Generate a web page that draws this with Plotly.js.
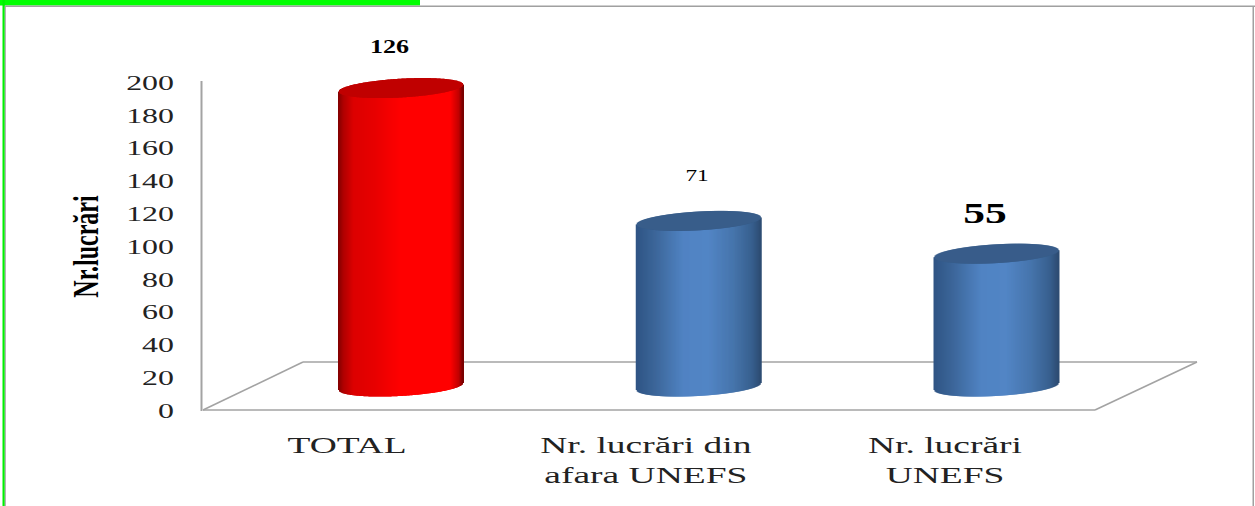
<!DOCTYPE html>
<html>
<head>
<meta charset="utf-8">
<script src="https://cdn.plot.ly/plotly-3.0.1.min.js"></script>
<style>html,body{margin:0;padding:0;background:#fff;overflow:hidden}#chart{width:1255px;height:506px}</style>
</head>
<body>
<div id="chart"></div>
<script>
// ---- data ----
const categories = ['TOTAL', 'Nr. lucrări din<br>afara UNEFS', 'Nr. lucrări<br>UNEFS'];
const barHeights = [182, 101, 81];      // height of each cylinder as read against the value axis
const dataLabels = ['126', '71', '55']; // printed labels (they differ from the drawn heights in the source)
const yTicks = [0, 20, 40, 60, 80, 100, 120, 140, 160, 180, 200];
const yTitle = 'Nr.lucrări';

// ---- layout and style ----
const W = 1255, H = 506;
const plot = {l: 202, r: 1200, t: 69, b: 410};
const pxPerX = 299, pxPerY = 1.64, x0px = 347;
const xRange = [(plot.l - x0px) / pxPerX, (plot.r - x0px) / pxPerX];
const yRange = [0, (plot.b - plot.t) / pxPerY]; // head-room above 200 so the red cap is not cut off
const serif = '"Liberation Serif","Times New Roman",serif';
const depthOffset = 14.3;   // bar base centre above the axis zero, floor depth
const barShift = 54 / pxPerX;    // bars sit behind the labels in the fake 3-D view
const barStep = 297.75 / pxPerX;
const halfW = 62, tilt = 3.5, capB = 9.4; // cylinder shape, pixels
const blueStops = [['0', '#2f5484'], ['0.15', '#3c6699'], ['0.38', '#5083c3'], ['0.58', '#5285c5'], ['0.78', '#4675ac'], ['0.93', '#38608f'], ['1', '#2d4c73']];
const bodyStops = [
  [['0', '#850000'], ['0.04', '#b00000'], ['0.12', '#dc0000'], ['0.3', '#e80000'], ['0.5', '#ff0000'], ['0.9', '#ff0000'], ['0.97', '#c00000'], ['1', '#7a0000']],
  blueStops,
  blueStops
];
const capColors = ['#c00000', '#385d8a', '#385d8a'];
const labelFonts = [
  {size: 18, weight: 700, dx: -12, dy: 41},
  {size: 16, weight: 400, dx: -2, dy: 45},
  {size: 30, weight: 700, dx: -11.5, dy: 41}
];

function hex(c) { return [1, 3, 5].map(i => parseInt(c.substr(i, 2), 16)); }
function gradient(stops, f) {
  for (let i = 1; i < stops.length; i++) {
    const a = +stops[i - 1][0], b = +stops[i][0];
    if (f <= b) {
      const k = (f - a) / (b - a), p = hex(stops[i - 1][1]), q = hex(stops[i][1]);
      return 'rgb(' + p.map((v, j) => Math.round(v + (q[j] - v) * k)).join(',') + ')';
    }
  }
  return stops[stops.length - 1][1];
}

const barCentre = c => barShift + c * barStep;
const traces = [], capTraces = [];
categories.forEach((cat, c) => {
  const cx = barCentre(c), xs = [], ys = [], bases = [], colors = [], widths = [];
  const capY = [], capBase = [];
  const topCentre = depthOffset + barHeights[c];
  for (let p = -halfW; p <= halfW; p++) {
    const u = p / halfW, arc = capB * Math.sqrt(Math.max(0, 1 - u * u));
    const bottom = depthOffset + (tilt * u - arc) / pxPerY;
    const top = topCentre + tilt * u / pxPerY;
    xs.push(cx + p / pxPerX);
    bases.push(bottom);
    ys.push(top - bottom);
    widths.push(2 / pxPerX);
    colors.push(gradient(bodyStops[c], (u + 1) / 2));
    capBase.push(top - arc / pxPerY);
    capY.push(2 * arc / pxPerY);
  }
  traces.push({type: 'bar', name: cat, x: xs, y: ys, base: bases, width: widths,
    marker: {color: colors, line: {width: 0}}, hoverinfo: 'skip', showlegend: false, cliponaxis: false});
  capTraces.push({type: 'bar', name: cat + ' top', x: xs, y: capY, base: capBase, width: widths,
    marker: {color: capColors[c], line: {width: 0}}, hoverinfo: 'skip', showlegend: false, cliponaxis: false});
});

const px = v => (v - plot.l) / (plot.r - plot.l);
const py = v => (plot.b - v) / (plot.b - plot.t);
const rect = (x1, y1, x2, y2, color) => ({type: 'rect', xref: 'paper', yref: 'paper', layer: 'below',
  x0: px(x1), x1: px(x2), y0: py(y1), y1: py(y2), fillcolor: color, line: {width: 0}});
const seg = (x1, y1, x2, y2, w) => ({type: 'line', xref: 'paper', yref: 'paper', layer: 'below',
  x0: px(x1), x1: px(x2), y0: py(y1), y1: py(y2), line: {color: '#a3a3a3', width: w || 1.6}});

const annotations = dataLabels.map((t, c) => ({
  x: barCentre(c), y: depthOffset + barHeights[c], xref: 'x', yref: 'y', text: t, showarrow: false,
  xanchor: 'center', yanchor: 'middle', xshift: labelFonts[c].dx, yshift: labelFonts[c].dy,
  font: {family: serif, size: labelFonts[c].size, weight: labelFonts[c].weight, color: '#000'}
}));

const layout = {
  width: W, height: H, autosize: false, barmode: 'overlay',
  paper_bgcolor: '#fff', plot_bgcolor: 'rgba(0,0,0,0)', showlegend: false,
  margin: {l: plot.l, r: W - plot.r, t: plot.t, b: H - plot.b, pad: 0},
  xaxis: {type: 'linear', range: xRange, tickmode: 'array', tickvals: [0, 1, 2], ticktext: categories,
    showgrid: false, zeroline: false, showline: false, ticks: '', ticklabelstandoff: 19,
    tickfont: {family: serif, size: 23, color: '#222'}},
  yaxis: {range: yRange, tickmode: 'array', tickvals: yTicks, ticktext: yTicks.map(String),
    showgrid: false, zeroline: false, showline: false, ticks: '',
    ticklabelstandoff: 27, tickfont: {family: serif, size: 22, color: '#222'},
    title: {text: yTitle, standoff: 39, font: {family: serif, size: 24, weight: 700, color: '#000'}}},
  annotations: annotations,
  shapes: [
    rect(0, 0, 420, 5.5, '#00ff00'),
    rect(5, 5.5, 1255, 7, '#a0a0a0'),
    rect(2.5, 0, 4.8, 506, '#00f000'),
    rect(4.8, 7, 5.8, 506, '#a0a0a0'),
    rect(1252.5, 7, 1254, 506, '#a0a0a0'),
    seg(201.5, 81, 201.5, 411, 2),
    seg(203, 410, 1095, 410),
    seg(203, 410, 303, 362),
    seg(303, 362, 1197, 362),
    seg(1197, 362, 1095, 410)
  ]
};

function stretch(el, sx, sy, anchor, dy) {
  const b = el.getBBox();
  const cx = anchor === 'right' ? b.x + b.width : b.x + b.width / 2, cy = b.y + b.height / 2;
  const t = el.getAttribute('transform') || '';
  el.setAttribute('transform', (dy ? 'translate(0,' + dy + ') ' : '') + t + ' translate(' + cx + ',' + cy + ') scale(' + sx + ',' + sy + ') translate(' + (-cx) + ',' + (-cy) + ')');
}

Plotly.newPlot('chart', traces.concat(capTraces), layout, {staticPlot: true, displayModeBar: false}).then(gd => {
  gd.querySelectorAll('.xtick text').forEach(e => stretch(e, 1.63, 1));
  gd.querySelectorAll('.ytick text').forEach(e => stretch(e, 1.45, 1, 'right'));
  gd.querySelectorAll('.annotation-text').forEach(e => stretch(e, 1.45, 1));
  gd.querySelectorAll('.ytitle').forEach(e => stretch(e, 1, 1.45, null, 7));
});
</script>
</body>
</html>
